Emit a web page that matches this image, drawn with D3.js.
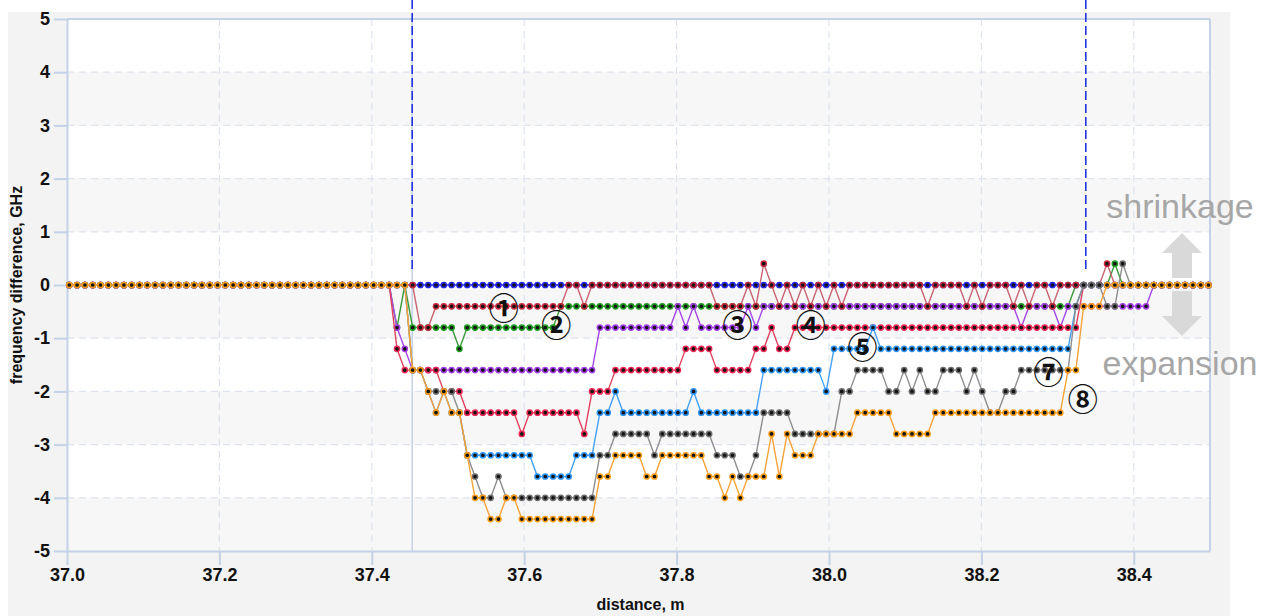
<!DOCTYPE html>
<html lang="en">
<head>
<meta charset="UTF-8">
<title>Frequency difference vs distance</title>
<script src="https://d3js.org/d3.v7.min.js"></script>
<style>
  body { margin: 0; background: #ffffff; }
  svg text { font-family: Arial, "Liberation Sans", sans-serif; }
  .tick text { font-weight: bold; font-size: 18px; fill: #111; }
  .axis path, .axis line { stroke: #c3d2e6; stroke-width: 2; }
  .grid line { stroke: #dde3ee; stroke-width: 1.2; stroke-dasharray: 7,5; }
</style>
</head>
<body>
<div id="chart"></div>
<script>
// sampling of the distance axis (m)
const startDistance = 37.003;
const sampleStep = 0.01024;
const sampleCount = 147;

const xTicks = [37.0, 37.2, 37.4, 37.6, 37.8, 38.0, 38.2, 38.4];
const yTicks = [-5, -4, -3, -2, -1, 0, 1, 2, 3, 4, 5];
const markerLines = [37.453, 38.337];

// frequency difference, GHz (one value per sample)
const refBlue = [
  0,0,0,0,0,0,0,0,0,0, 0,0,0,0,0,0,0,0,0,0, 0,0,0,0,0,0,0,0,0,0, 0,0,0,0,0,0,0,0,0,0,
  0,0,0,0,0,0,0,0,0,0, 0,0,0,0,0,0,0,0,0,0, 0,0,0,0,0,0,0,0,0,0, 0,0,0,0,0,0,0,0,0,0,
  0,0,0,0,0,0,0,0,0,0, 0,0,0,0,0,0,0,0,0,0, 0,0,0,0,0,0,0,0,0,0, 0,0,0,0,0,0,0,0,0,0,
  0,0,0,0,0,0,0,0,0,0, 0,0,0,0,0,0,0,0,0,0, 0,0,0,0,0,0,0
];
const curve1 = [
  0,0,0,0,0,0,0,0,0,0, 0,0,0,0,0,0,0,0,0,0, 0,0,0,0,0,0,0,0,0,0, 0,0,0,0,0,0,0,0,0,0,
  0,0,0,0,0,-0.8,-0.8,-0.4,-0.4,-0.4,
  -0.4,-0.4,-0.4,-0.4,-0.4,-0.4,-0.4,-0.4,-0.4,-0.4,
  -0.4,-0.4,-0.4,-0.4,0,0,-0.4,0,0,0,
  0,0,0,0,0,0,0,0,0,0,
  0,0,0,-0.4,-0.4,-0.4,-0.4,0,-0.4,0.4,
  0,-0.4,0,-0.4,0,-0.4,0,-0.4,0,-0.4,
  0,0,0,0,0,0,0,0,0,0,
  -0.4,0,0,0,0,-0.4,0,-0.4,0,0,
  0,-0.4,0,-0.4,0,0,-0.4,0,0,0,
  0,0,0,0.4,0,0,0,0,0,0,
  0,0,0,0,0,0,0
];
const curve2 = [
  0,0,0,0,0,0,0,0,0,0, 0,0,0,0,0,0,0,0,0,0, 0,0,0,0,0,0,0,0,0,0, 0,0,0,0,0,0,0,0,0,0,
  0,0,-0.8,0,-0.8,-0.8,-0.8,-0.8,-0.8,-0.8,
  -1.2,-0.8,-0.8,-0.8,-0.8,-0.8,-0.8,-0.8,-0.8,-0.8,
  -0.8,-0.8,-0.8,-0.4,-0.4,-0.4,-0.4,-0.4,-0.4,-0.4,
  -0.4,-0.4,-0.4,-0.4,-0.4,-0.4,-0.4,-0.4,-0.4,-0.4,
  -0.4,-0.4,-0.4,-0.4,-0.4,-0.4,-0.4,-0.4,-0.4,-0.4,
  -0.4,-0.4,-0.4,-0.4,-0.4,-0.4,-0.4,-0.4,-0.4,-0.4,
  -0.4,-0.4,-0.4,-0.4,-0.4,-0.4,-0.4,-0.4,-0.4,-0.4,
  -0.4,-0.4,-0.4,-0.4,-0.4,-0.4,-0.4,-0.4,-0.4,-0.4,
  -0.4,-0.4,-0.4,-0.4,-0.4,-0.4,-0.4,-0.4,-0.4,0,
  0,0,0,0,0.4,0,0,0,0,0,
  0,0,0,0,0,0,0
];
const curve3 = [
  0,0,0,0,0,0,0,0,0,0, 0,0,0,0,0,0,0,0,0,0, 0,0,0,0,0,0,0,0,0,0, 0,0,0,0,0,0,0,0,0,0,
  0,0,-0.8,-1.2,-1.6,-1.6,-1.6,-1.6,-1.6,-1.6,
  -1.6,-1.6,-1.6,-1.6,-1.6,-1.6,-1.6,-1.6,-1.6,-1.6,
  -1.6,-1.6,-1.6,-1.6,-1.6,-1.6,-1.6,-1.6,-0.8,-0.8,
  -0.8,-0.8,-0.8,-0.8,-0.8,-0.8,-0.8,-0.8,-0.4,-0.8,
  -0.4,-0.8,-0.8,-0.8,-0.8,-0.8,-0.8,-0.4,-0.8,-0.4,
  -0.4,-0.4,-0.4,-0.4,-0.4,-0.4,-0.4,-0.4,-0.4,-0.4,
  -0.4,-0.4,-0.4,-0.4,-0.4,-0.4,-0.4,-0.4,-0.4,-0.4,
  -0.4,-0.4,-0.4,-0.4,-0.4,-0.4,-0.4,-0.4,-0.4,-0.4,
  -0.4,-0.4,-0.8,-0.4,-0.4,-0.4,-0.4,-0.8,-0.4,-0.4,
  -0.4,-0.4,-0.4,-0.4,-0.4,-0.4,-0.4,-0.4,-0.4,0,
  0,0,0,0,0,0,0
];
const curve4 = [
  0,0,0,0,0,0,0,0,0,0, 0,0,0,0,0,0,0,0,0,0, 0,0,0,0,0,0,0,0,0,0, 0,0,0,0,0,0,0,0,0,0,
  0,0,-1.2,-1.6,-1.6,-1.6,-1.6,-1.6,-2.0,-2.0,
  -2.0,-2.4,-2.4,-2.4,-2.4,-2.4,-2.4,-2.4,-2.8,-2.4,
  -2.4,-2.4,-2.4,-2.4,-2.4,-2.4,-2.8,-2.0,-2.0,-2.0,
  -1.6,-1.6,-1.6,-1.6,-1.6,-1.6,-1.6,-1.6,-1.6,-1.2,
  -1.2,-1.2,-1.2,-1.6,-1.6,-1.6,-1.6,-1.6,-1.2,-1.2,
  -0.8,-1.2,-1.2,-0.8,-0.8,-0.8,-0.8,-0.8,-0.8,-0.8,
  -0.8,-0.8,-0.8,-0.8,-0.8,-0.8,-0.8,-0.8,-0.8,-0.8,
  -0.8,-0.8,-0.8,-0.8,-0.8,-0.8,-0.8,-0.8,-0.8,-0.8,
  -0.8,-0.8,-0.8,-0.8,-0.8,-0.8,-0.8,-0.8,-0.8,-0.8,
  0,0,0,0,0,0,0,0,0,0,
  0,0,0,0,0,0,0
];
const curve5 = [
  0,0,0,0,0,0,0,0,0,0, 0,0,0,0,0,0,0,0,0,0, 0,0,0,0,0,0,0,0,0,0, 0,0,0,0,0,0,0,0,0,0,
  0,0,0,0,-1.6,-1.6,-2.0,-2.4,-2.0,-2.4,
  -2.4,-3.2,-3.2,-3.2,-3.2,-3.2,-3.2,-3.2,-3.2,-3.2,
  -3.6,-3.6,-3.6,-3.6,-3.6,-3.2,-3.2,-3.2,-2.4,-2.4,
  -2.0,-2.4,-2.4,-2.4,-2.4,-2.4,-2.4,-2.4,-2.4,-2.4,
  -2.0,-2.4,-2.4,-2.4,-2.4,-2.4,-2.4,-2.4,-2.4,-1.6,
  -1.6,-1.6,-1.6,-1.6,-1.6,-1.6,-1.6,-2.0,-1.2,-1.2,
  -1.2,-1.2,-1.2,-0.8,-1.2,-1.2,-1.2,-1.2,-1.2,-1.2,
  -1.2,-1.2,-1.2,-1.2,-1.2,-1.2,-1.2,-1.2,-1.2,-1.2,
  -1.2,-1.2,-1.2,-1.2,-1.2,-1.2,-1.2,-1.2,-1.2,-0.4,
  0,0,0,0,0,0,0,0,0,0,
  0,0,0,0,0,0,0
];
const curve7 = [
  0,0,0,0,0,0,0,0,0,0, 0,0,0,0,0,0,0,0,0,0, 0,0,0,0,0,0,0,0,0,0, 0,0,0,0,0,0,0,0,0,0,
  0,0,0,0,-1.6,-1.6,-2.0,-2.0,-2.0,-2.0,
  -2.4,-3.2,-3.6,-4.0,-4.0,-3.6,-4.0,-4.0,-4.0,-4.0,
  -4.0,-4.0,-4.0,-4.0,-4.0,-4.0,-4.0,-4.0,-3.2,-3.2,
  -2.8,-2.8,-2.8,-2.8,-2.8,-3.2,-2.8,-2.8,-2.8,-2.8,
  -2.8,-2.8,-2.8,-3.2,-3.2,-3.2,-3.6,-3.6,-3.2,-2.4,
  -2.4,-2.4,-2.4,-2.8,-2.8,-2.8,-2.8,-2.8,-2.8,-2.0,
  -2.0,-1.6,-1.6,-1.6,-1.6,-2.0,-2.0,-1.6,-2.0,-1.6,
  -2.0,-2.0,-1.6,-1.6,-1.6,-2.0,-1.6,-2.0,-2.4,-2.4,
  -2.0,-2.0,-1.6,-1.6,-1.6,-1.6,-1.6,-1.6,-1.6,-0.4,
  0,0,0,-0.4,-0.4,0.4,0,0,0,0,
  0,0,0,0,0,0,0
];
const curve8 = [
  0,0,0,0,0,0,0,0,0,0, 0,0,0,0,0,0,0,0,0,0, 0,0,0,0,0,0,0,0,0,0, 0,0,0,0,0,0,0,0,0,0,
  0,0,0,0,-1.6,-1.6,-2.0,-2.4,-2.0,-2.4,
  -2.4,-3.2,-4.0,-4.0,-4.4,-4.4,-4.0,-4.0,-4.4,-4.4,
  -4.4,-4.4,-4.4,-4.4,-4.4,-4.4,-4.4,-4.4,-3.6,-3.6,
  -3.2,-3.2,-3.2,-3.2,-3.6,-3.6,-3.2,-3.2,-3.2,-3.2,
  -3.2,-3.2,-3.6,-3.6,-4.0,-3.6,-4.0,-3.6,-3.6,-3.6,
  -2.8,-3.6,-2.8,-3.2,-3.2,-3.2,-2.8,-2.8,-2.8,-2.8,
  -2.8,-2.4,-2.4,-2.4,-2.4,-2.4,-2.8,-2.8,-2.8,-2.8,
  -2.8,-2.4,-2.4,-2.4,-2.4,-2.4,-2.4,-2.4,-2.4,-2.4,
  -2.4,-2.4,-2.4,-2.4,-2.4,-2.4,-2.4,-2.4,-1.6,-1.6,
  -0.4,-0.4,-0.4,0,0,0,0,0,0,0,
  0,0,0,0,0,0,0
];

// drawing order: later series lie on top
const seriesList = [
  { name: "2", values: curve2, line: "#3a9a3a", halo: "#22a022" },
  { name: "3", values: curve3, line: "#a646e6", halo: "#a53ee8" },
  { name: "ref", values: refBlue, line: "#2b2be0", halo: "#2525ee" },
  { name: "1", values: curve1, line: "#c96470", halo: "#c8283e" },
  { name: "4", values: curve4, line: "#e0405e", halo: "#ee2855" },
  { name: "5", values: curve5, line: "#45a2f5", halo: "#2f95f5" },
  { name: "7", values: curve7, line: "#8e8e8e", halo: "#6e6e6e" },
  { name: "8", values: curve8, line: "#f7a338", halo: "#fb9e1c" }
];

// circled labels (distance, GHz)
const labels = [
  { text: "\u2460", x: 37.573, y: -0.40 },
  { text: "\u2461", x: 37.642, y: -0.72 },
  { text: "\u2462", x: 37.880, y: -0.72 },
  { text: "\u2463", x: 37.976, y: -0.72 },
  { text: "\u2464", x: 38.044, y: -1.13 },
  { text: "\u2466", x: 38.288, y: -1.60 },
  { text: "\u2467", x: 38.333, y: -2.10 }
];

const width = 1266;
const height = 616;
const plot = { left: 67, right: 1210, top: 19, bottom: 551 };

const svg = d3.select("#chart").append("svg")
  .attr("width", width)
  .attr("height", height);

// grey panel behind the chart
svg.append("rect")
  .attr("x", 8).attr("y", 12)
  .attr("width", 1222).attr("height", 604)
  .attr("fill", "#f3f3f3");

const x = d3.scaleLinear().domain([37.0, 38.5]).range([plot.left, plot.right]);
const y = d3.scaleLinear().domain([-5, 5]).range([plot.bottom, plot.top]);

// plot background with alternating bands
svg.append("rect")
  .attr("x", plot.left).attr("y", plot.top)
  .attr("width", plot.right - plot.left).attr("height", plot.bottom - plot.top)
  .attr("fill", "#ffffff");

svg.append("g").selectAll("rect")
  .data([-5, -3, -1, 1, 3])
  .join("rect")
  .attr("x", plot.left)
  .attr("y", d => y(d + 1))
  .attr("width", plot.right - plot.left)
  .attr("height", d => y(d) - y(d + 1))
  .attr("fill", "#f7f7f8");

// dashed grid
const grid = svg.append("g").attr("class", "grid");
grid.selectAll("line.h")
  .data(yTicks.filter(d => d > -5 && d < 5))
  .join("line")
  .attr("class", "h")
  .attr("x1", plot.left).attr("x2", plot.right)
  .attr("y1", d => y(d)).attr("y2", d => y(d));
grid.selectAll("line.v")
  .data(xTicks.filter(d => d > 37.0))
  .join("line")
  .attr("class", "v")
  .attr("x1", d => x(d)).attr("x2", d => x(d))
  .attr("y1", plot.top).attr("y2", plot.bottom);

// light cursor line at the left marker
svg.append("line")
  .attr("x1", x(markerLines[0])).attr("x2", x(markerLines[0]))
  .attr("y1", plot.top).attr("y2", plot.bottom)
  .attr("stroke", "#c3d2e6").attr("stroke-width", 1.5);

// frame
svg.append("line")
  .attr("x1", plot.left).attr("x2", plot.right)
  .attr("y1", plot.top).attr("y2", plot.top)
  .attr("stroke", "#c3d2e6").attr("stroke-width", 2);
svg.append("line")
  .attr("x1", plot.right).attr("x2", plot.right)
  .attr("y1", plot.top).attr("y2", plot.bottom)
  .attr("stroke", "#c3d2e6").attr("stroke-width", 2);

svg.append("g")
  .attr("class", "axis")
  .attr("transform", `translate(${plot.left},0)`)
  .call(d3.axisLeft(y).tickValues(yTicks).tickFormat(d => String(d)).tickSize(13).tickSizeOuter(0).tickPadding(4));

svg.append("g")
  .attr("class", "axis")
  .attr("transform", `translate(0,${plot.bottom})`)
  .call(d3.axisBottom(x).tickValues(xTicks).tickFormat(d => d.toFixed(1)).tickSize(14).tickSizeOuter(0).tickPadding(3));

// axis titles
svg.append("text")
  .attr("x", (plot.left + plot.right) / 2 + 2)
  .attr("y", 610)
  .attr("text-anchor", "middle")
  .attr("font-size", 16).attr("font-weight", "bold").attr("fill", "#111")
  .text("distance, m");

svg.append("text")
  .attr("transform", `translate(22,${y(0)}) rotate(-90)`)
  .attr("text-anchor", "middle")
  .attr("font-size", 16).attr("font-weight", "bold").attr("fill", "#111")
  .text("frequency difference, GHz");

// series
const distance = d3.range(sampleCount).map(i => startDistance + i * sampleStep);
const line = d3.line()
  .x((d, i) => x(distance[i]))
  .y(d => y(d));

const seriesG = svg.append("g")
  .selectAll("g")
  .data(seriesList)
  .join("g");

seriesG.append("path")
  .attr("d", d => line(d.values))
  .attr("fill", "none")
  .attr("stroke", d => d.line)
  .attr("stroke-width", 1.4);

seriesG.each(function (s) {
  d3.select(this).selectAll("circle")
    .data(s.values)
    .join("circle")
    .attr("cx", (d, i) => x(distance[i]))
    .attr("cy", d => y(d))
    .attr("r", 2.6)
    .attr("fill", "#141414")
    .attr("stroke", s.halo)
    .attr("stroke-width", 1.5);
});

// blue dashed markers
svg.append("g").selectAll("line")
  .data(markerLines)
  .join("line")
  .attr("x1", d => x(d)).attr("x2", d => x(d))
  .attr("y1", 0).attr("y2", y(0.3))
  .attr("stroke", "#2233e0")
  .attr("stroke-width", 1.6)
  .attr("stroke-dasharray", "9,4");

// circled numbers
svg.append("g").selectAll("text")
  .data(labels)
  .join("text")
  .attr("x", d => x(d.x))
  .attr("y", d => y(d.y))
  .attr("text-anchor", "middle")
  .attr("dominant-baseline", "central")
  .style("font-family", "'Noto Sans CJK JP', 'DejaVu Sans', sans-serif")
  .attr("font-size", 30)
  .attr("font-weight", "bold")
  .attr("fill", "#111")
  .text(d => d.text);

// shrinkage / expansion annotation
svg.append("text")
  .attr("x", 1180).attr("y", 218)
  .attr("text-anchor", "middle")
  .attr("font-size", 34).attr("fill", "#a6a6a6")
  .text("shrinkage");
svg.append("text")
  .attr("x", 1180).attr("y", 375)
  .attr("text-anchor", "middle")
  .attr("font-size", 34).attr("fill", "#a6a6a6")
  .text("expansion");

const arrowColor = "#d9d9d9";
svg.append("path")
  .attr("d", "M1182,233 L1202,253 L1192,253 L1192,278 L1172,278 L1172,253 L1162,253 Z")
  .attr("fill", arrowColor);
svg.append("path")
  .attr("d", "M1182,336 L1202,316 L1192,316 L1192,291 L1172,291 L1172,316 L1162,316 Z")
  .attr("fill", arrowColor);
</script>
</body>
</html>
